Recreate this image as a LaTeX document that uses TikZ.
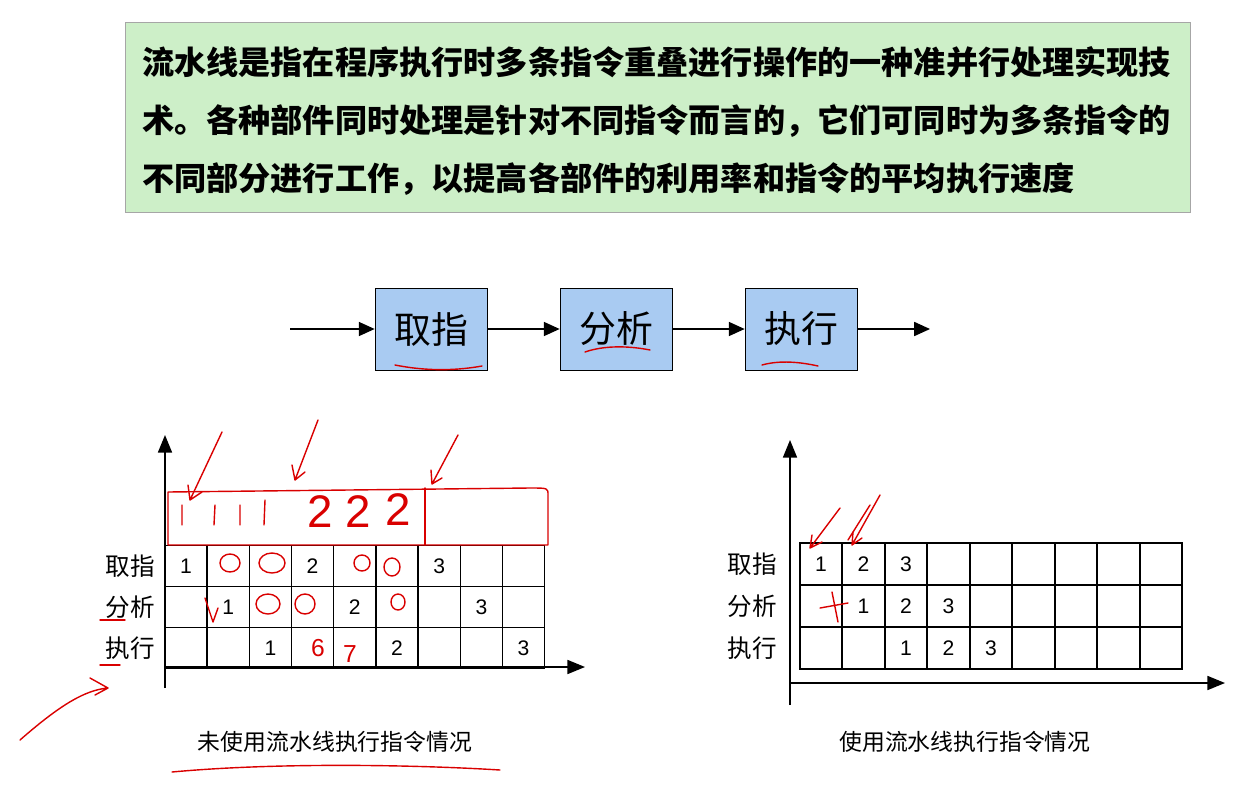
\documentclass[tikz,border=0pt]{standalone}
\usepackage{fontspec}
\setmainfont{Liberation Sans}
\newfontfamily\cjk{Noto Sans CJK SC}
\usetikzlibrary{arrows.meta}
\definecolor{notegreen}{HTML}{CDEFC8}
\definecolor{stageblue}{HTML}{A9CBF2}
\tikzset{
  stage/.style={draw=black, fill=stageblue, minimum width=2.24cm, minimum height=1.64cm, font=\cjk\fontsize{21}{21}\selectfont},
  flow/.style={-{Triangle[length=9pt,width=8pt]}, thick},
  axis/.style={-{Triangle[length=10pt,width=8pt]}, thick},
  cell/.style={draw=black, thick, minimum width=0.845cm, minimum height=0.83cm, inner sep=0pt, font=\fontsize{12}{12}\selectfont},
  rowlab/.style={font=\cjk\fontsize{14}{14}\selectfont},
  caption/.style={font=\cjk\fontsize{13}{13}\selectfont},
  pen/.style={red!85!black, thick, line cap=round, line join=round}
}
\begin{document}
\begin{tikzpicture}[x=0.02cm, y=-0.02cm]
	\useasboundingbox (0,0) rectangle (1257,791);
	% Note box
	\node[draw=gray!70, fill=notegreen, minimum width=21.3cm, minimum height=3.8cm, anchor=north west] (note) at (125,22) {};
	\node[anchor=west, align=left, font=\cjk\bfseries\fontsize{18.3}{33}\selectfont] (notetext) at (136,121)
	{流水线是指在程序执行时多条指令重叠进行操作的一种准并行处理实现技\\术。各种部件同时处理是针对不同指令而言的，它们可同时为多条指令的\\不同部分进行工作，以提高各部件的利用率和指令的平均执行速度};
	% Pipeline stages
	\node[stage] (fetch) at (431,329) {取指};
	\node[stage] (decode) at (616,329) {分析};
	\node[stage] (exec) at (801,329) {执行};
	\coordinate (in) at (290,329);
	\coordinate (out) at (930,329);
	\draw[flow] (in) -- (fetch);
	\draw[flow] (fetch) -- (decode);
	\draw[flow] (decode) -- (exec);
	\draw[flow] (exec) -- (out);
	% --- Left chart (sequential) ---
	\coordinate (lo) at (165,667);
	\draw[axis] (165,688) -- (165,435);
	\draw[axis] (lo) -- (585,667);
	\foreach \r/\lab in {0/取指,1/分析,2/执行}{
		\node[rowlab] (ll\r) at (130,{566+41*\r}) {\lab};
		\foreach \c in {0,...,8}
			\node[cell] (l\r\c) at ({186+42.2*\c},{566+41*\r}) {};
	}
	\foreach \r/\c/\n in {0/0/1,0/3/2,0/6/3,1/1/1,1/4/2,1/7/3,2/2/1,2/5/2,2/8/3}
		\node[font=\fontsize{12}{12}\selectfont] at (l\r\c) {\n};
	\node[caption] (lcap) at (335,742) {未使用流水线执行指令情况};
	% --- Right chart (pipelined) ---
	\draw[axis] (790,705) -- (790,440);
	\draw[axis] (790,683) -- (1225,683);
	\foreach \r/\lab in {0/取指,1/分析,2/执行}{
		\node[rowlab] (rl\r) at (752,{564+42*\r}) {\lab};
		\foreach \c in {0,...,8}
			\node[cell, minimum height=0.84cm] (r\r\c) at ({821+42.5*\c},{564+42*\r}) {};
	}
	\foreach \r/\c/\n in {0/0/1,0/1/2,0/2/3,1/1/1,1/2/2,1/3/3,2/2/1,2/3/2,2/4/3}
		\node[font=\fontsize{12}{12}\selectfont] at (r\r\c) {\n};
	\node[caption] (rcap) at (965,742) {使用流水线执行指令情况};
	% Hand annotations
	\draw[pen] (395,365) .. controls (430,372) and (460,370) .. (482,366);
	\draw[pen] (585,352) .. controls (605,345) and (630,346) .. (650,350);
	\draw[pen] (762,365) .. controls (780,360) and (800,362) .. (818,366);
	\draw[pen] (168,492) -- (168,545) -- (548,545) -- (548,495) .. controls (548,488) .. (530,488) -- (168,492);
	\draw[pen] (425,488) -- (425,545);
	\draw[pen] (222,432) -- (190,500) (190,500) -- (188,485) (190,500) -- (202,492);
	\draw[pen] (318,420) -- (295,480) (295,480) -- (292,465) (295,480) -- (305,472);
	\draw[pen] (458,435) -- (432,484) (432,484) -- (431,470) (432,484) -- (442,478);
	\draw[pen] (182,505) -- (182,525) (215,505) -- (214,525) (240,505) -- (240,525) (265,500) -- (264,525);
	\node[red!85!black, font=\fontsize{26}{26}\selectfont] at (320,512) {2};
	\node[red!85!black, font=\fontsize{26}{26}\selectfont] at (358,512) {2};
	\node[red!85!black, font=\fontsize{26}{26}\selectfont] at (398,510) {2};
	\draw[pen] (100,620) -- (125,620) (100,665) -- (120,665);
	\draw[pen] (20,740) .. controls (60,705) and (85,690) .. (108,688) (90,678) -- (108,688) -- (95,695);
	\draw[pen] (172,772) .. controls (280,762) and (420,765) .. (500,770);
	\draw[pen] (230,563) ellipse (10 and 9) (272,563) ellipse (13 and 10);
	\draw[pen] (362,563) ellipse (8 and 8) (392,567) ellipse (8 and 9);
	\draw[pen] (268,604) ellipse (12 and 10) (305,604) ellipse (10 and 10) (398,602) ellipse (7 and 8);
	\draw[pen] (205,598) -- (213,622) -- (218,608);
	\node[red!85!black, font=\fontsize{14}{14}\selectfont] at (318,648) {6};
	\node[red!85!black, font=\fontsize{14}{14}\selectfont] at (350,654) {7};
	\draw[pen] (840,508) -- (810,548) (810,548) -- (812,535) (810,548) -- (822,542);
	\draw[pen] (880,495) -- (852,545) (852,545) -- (853,532) (852,545) -- (862,538);
	\draw[pen] (870,505) -- (848,540);
	\draw[pen] (820,608) -- (848,603) (832,592) -- (838,622);
\end{tikzpicture}
\end{document}
